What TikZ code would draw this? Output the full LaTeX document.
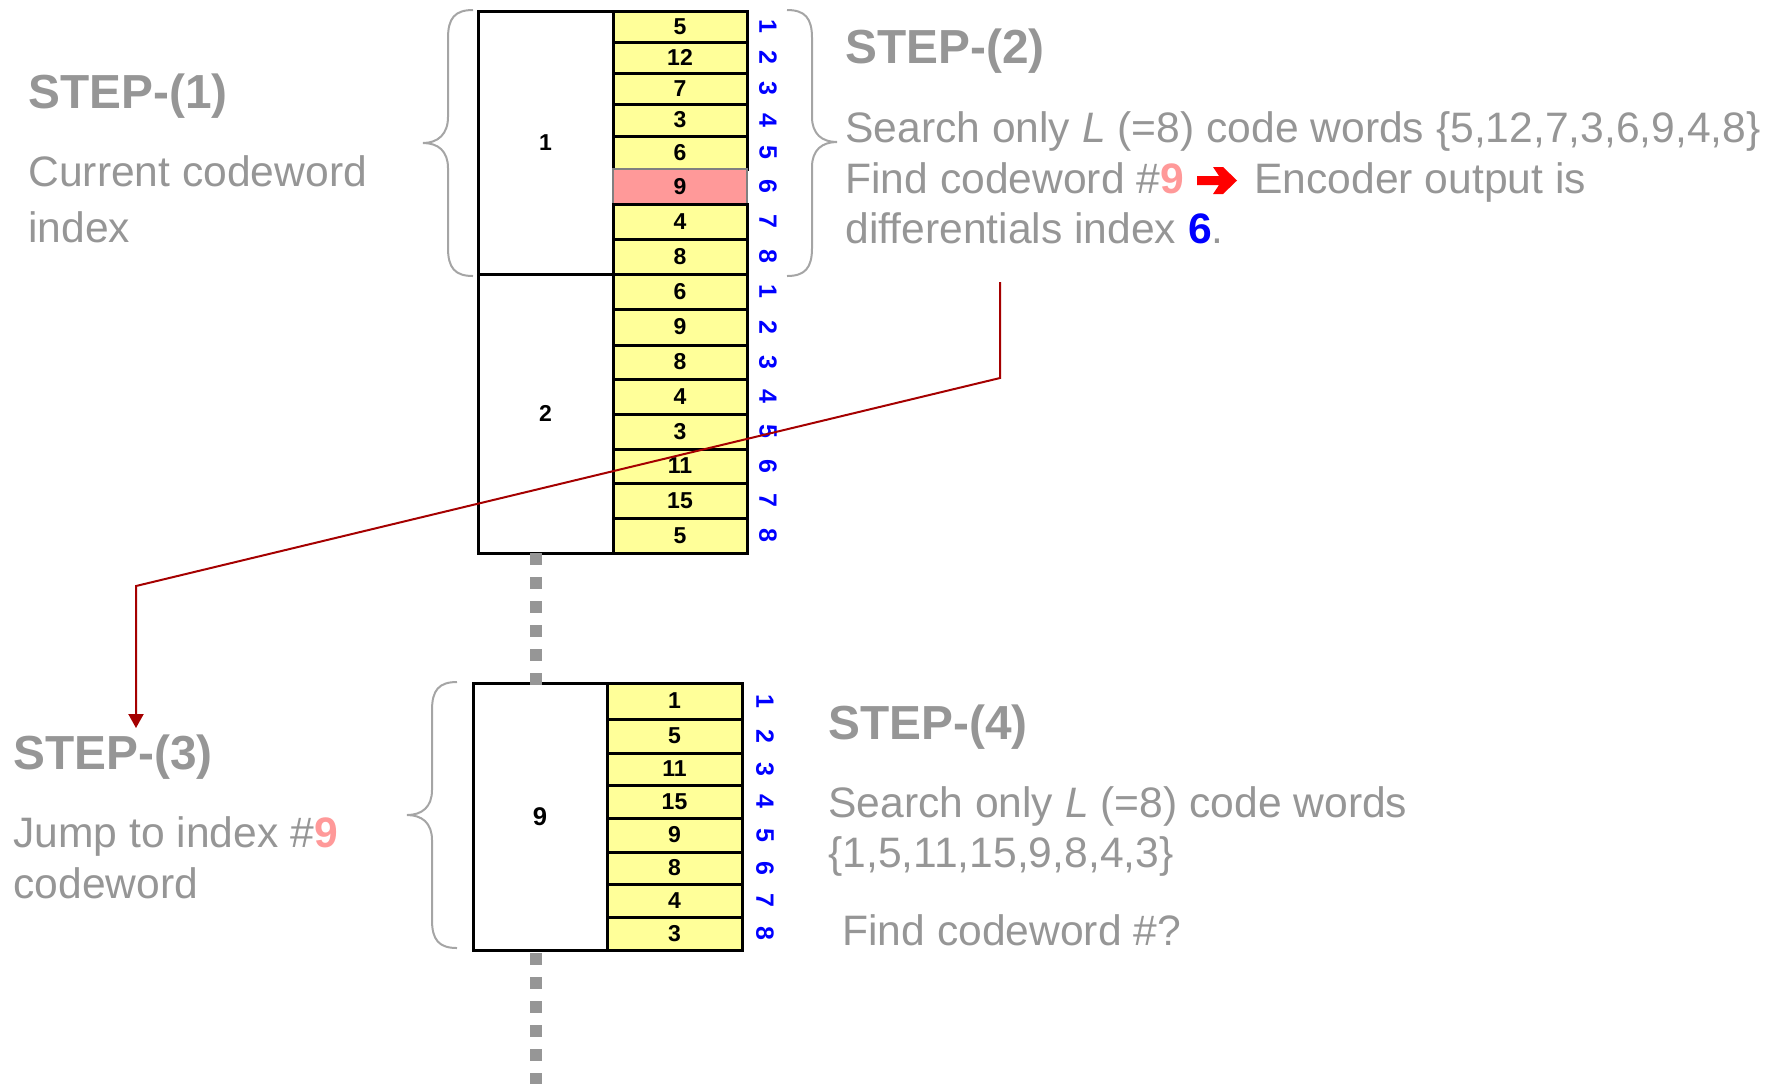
\documentclass[tikz,border=0pt]{standalone}
\usepackage{fontspec}
\setmainfont{Liberation Sans}
\usetikzlibrary{arrows.meta}
\definecolor{txtgray}{RGB}{150,150,150}
\definecolor{cellyellow}{RGB}{255,255,153}
\definecolor{cellpink}{RGB}{255,153,153}
\definecolor{darkred}{RGB}{165,0,0}
\definecolor{bracegray}{RGB}{165,165,165}
\definecolor{arrowred}{RGB}{255,0,0}
\begin{document}
\begin{tikzpicture}[x=0.5pt,y=-0.5pt,
  heading/.style={anchor=base west, inner sep=0pt, text=txtgray, font=\fontsize{23.9pt}{28pt}\selectfont\bfseries},
  body/.style={anchor=base west, inner sep=0pt, text=txtgray, font=\fontsize{21.3pt}{25pt}\selectfont},
  leftbox/.style={draw=black, line width=1.5pt, fill=white, inner sep=0pt, minimum width=67.5pt, font=\fontsize{11.5pt}{13pt}\selectfont\bfseries},
  cellbox/.style={draw=black, line width=1.5pt, fill=cellyellow, inner sep=0pt, minimum width=67pt, font=\fontsize{11.5pt}{13pt}\selectfont\bfseries},
  pinkbox/.style={draw=gray, line width=1pt, fill=cellpink, inner sep=0pt, minimum width=67pt, font=\fontsize{11.5pt}{13pt}\selectfont\bfseries},
  idx/.style={text=blue, rotate=-90, inner sep=0pt, font=\fontsize{12.5pt}{14pt}\selectfont\bfseries},
  bracestyle/.style={draw=bracegray, line width=1pt},
  dotline/.style={draw=txtgray, line width=6pt, dash pattern=on 6pt off 6pt, line cap=butt},
  redline/.style={draw=darkred, line width=1pt, -{Triangle[width=7.5pt,length=7pt]}},
]
\useasboundingbox (0,0) rectangle (1781,1084);

% ---------- Block 1 ----------
\node[leftbox, minimum height=131.5pt] (L1) at (545.5,142.5) {1};
\foreach \t/\b/\v/\s [count=\i] in {11/42/5/cellbox, 42/73/12/cellbox, 73/104/7/cellbox, 104/136/3/cellbox, 136/169/6/cellbox, 169/204/9/pinkbox, 204/239/4/cellbox, 239/274/8/cellbox}{
  \node[\s, minimum height={(\b-\t)*0.5pt}] (a\i) at (680,{(\t+\b)/2}) {\v};
  \node[idx] (ai\i) at (768,{(\t+\b)/2}) {\i};
}

% ---------- Block 2 ----------
\node[leftbox, minimum height=139.5pt] (L2) at (545.5,413.5) {2};
\foreach \t/\b/\v [count=\i] in {274/309/6, 309/345/9, 345/379/8, 379/414/4, 414/449/3, 449/483/11, 483/518/15, 518/553/5}{
  \node[cellbox, minimum height={(\b-\t)*0.5pt}] (b\i) at (680,{(\t+\b)/2}) {\v};
  \node[idx] (bi\i) at (768,{(\t+\b)/2}) {\i};
}

% ---------- Block 3 ----------
\node[leftbox, minimum width=67pt, minimum height=133.5pt, font=\fontsize{12.8pt}{15pt}\selectfont\bfseries] (L3) at (540,816.5) {9};
\foreach \t/\b/\v [count=\i] in {683/719/1, 719/753/5, 753/785/11, 785/818/15, 818/852/9, 852/884/8, 884/917/4, 917/950/3}{
  \node[cellbox, minimum width=67.5pt, minimum height={(\b-\t)*0.5pt}] (c\i) at (674.5,{(\t+\b)/2}) {\v};
  \node[idx] (ci\i) at (765,{(\t+\b)/2}) {\i};
}

% ---------- dotted continuation ----------
\coordinate (d1) at (536,553);
\coordinate (d2) at (536,685);
\coordinate (d3) at (536,953);
\coordinate (d4) at (536,1084);
\draw[dotline] (d1) -- (d2);
\draw[dotline] (d3) -- (d4);

% ---------- braces ----------
\draw[bracestyle] (473,10) .. controls (455,10) and (448,18) .. (448,38) -- (448,117)
  .. controls (448,134) and (438,143) .. (423,143)
  .. controls (438,143) and (448,151) .. (448,168) -- (448,248)
  .. controls (448,268) and (455,276) .. (473,276);
\draw[bracestyle] (787,10) .. controls (805,10) and (812,18) .. (812,38) -- (812,117)
  .. controls (812,134) and (822,142) .. (837,142)
  .. controls (822,142) and (812,150) .. (812,167) -- (812,248)
  .. controls (812,268) and (805,276) .. (787,276);
\draw[bracestyle] (457,682) .. controls (439,682) and (432,690) .. (432,710) -- (432,790)
  .. controls (432,807) and (422,815) .. (407,815)
  .. controls (422,815) and (432,823) .. (432,840) -- (432,920)
  .. controls (432,940) and (439,948) .. (457,948);

% ---------- texts ----------
\node[heading] (s1h) at (28,108) {STEP-(1)};
\node[body] (s1a) at (28,186) {Current codeword};
\node[body] (s1b) at (28,242) {index};

\node[heading] (s2h) at (845,63) {STEP-(2)};
\node[body] (s2a) at (845,142) {Search only \textit{L} (=8) code words \{5,12,7,3,6,9,4,8\}};
\node[body] (s2b) at (845,193) {Find codeword \#{\color{cellpink}\bfseries 9}};
\node[body] (s2c) at (1254,193) {Encoder output is};
\node[body] (s2d) at (845,243) {differentials index {\color{blue}\bfseries 6}.};
\fill[arrowred] (1197,176) -- (1219,176) -- (1213,167) -- (1223,167) -- (1237,180.5)
  -- (1223,194) -- (1213,194) -- (1219,185) -- (1197,185) -- cycle;

\node[heading] (s3h) at (13,769) {STEP-(3)};
\node[body] (s3a) at (13,847) {Jump to index \#{\color{cellpink}\bfseries 9}};
\node[body] (s3b) at (13,898) {codeword};

\node[heading] (s4h) at (828,739) {STEP-(4)};
\node[body] (s4a) at (828,817) {Search only \textit{L} (=8) code words};
\node[body] (s4b) at (828,867) {\{1,5,11,15,9,8,4,3\}};
\node[body] (s4c) at (842,945) {Find codeword \#?};

% ---------- red connector ----------
\coordinate (r0) at (1000,282);
\coordinate (r1) at (1000,378);
\coordinate (r2) at (136,586);
\coordinate (r3) at (136,728);
\draw[redline] (r0) -- (r1) -- (r2) -- (r3);
\end{tikzpicture}
\end{document}
